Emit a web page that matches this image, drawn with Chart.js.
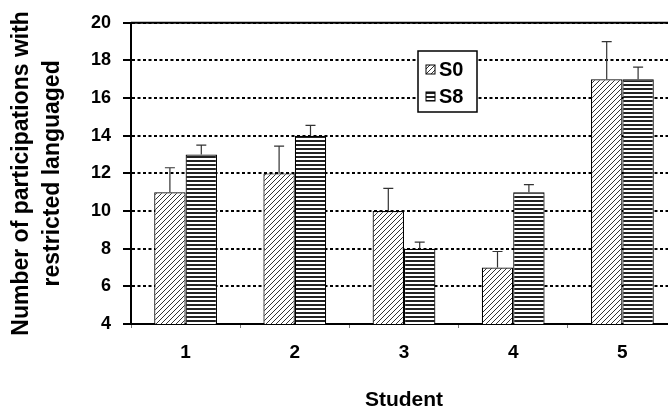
<!DOCTYPE html>
<html lang="en">
<head>
    <meta charset="UTF-8">
    <title>Participations with restricted language</title>
    <script src="https://cdn.jsdelivr.net/npm/chart.js"></script>
    <style>
        html, body {
            margin: 0;
            padding: 0;
            background: #ffffff;
            overflow: hidden;
        }
        #chart {
            display: block;
        }
    </style>
</head>
<body>
    <canvas id="chart" width="678" height="408"></canvas>

    <script>
        // Data
        const students = ['1', '2', '3', '4', '5'];
        const s0Values = [11, 12, 10, 7, 17];
        const s8Values = [13, 14, 8, 11, 17];
        // upper error bar tops
        const s0ErrTop = [12.3, 13.45, 11.2, 7.85, 19.0];
        const s8ErrTop = [13.5, 14.55, 8.35, 11.4, 17.65];
        const yMin = 4;
        const yMax = 20;
        const yStep = 2;

        const FONT = "'Liberation Sans', Arial, sans-serif";

        function makePattern(kind) {
            const c = document.createElement('canvas');
            const ctx = c.getContext('2d');
            if (kind === 'diag') {
                c.width = 5; c.height = 5;
                ctx.fillStyle = '#fff';
                ctx.fillRect(0, 0, 5, 5);
                ctx.strokeStyle = '#333';
                ctx.lineWidth = 1;
                ctx.beginPath();
                ctx.moveTo(-1, 6); ctx.lineTo(6, -1);
                ctx.moveTo(-1, 1); ctx.lineTo(1, -1);
                ctx.moveTo(4, 6); ctx.lineTo(6, 4);
                ctx.stroke();
            } else {
                c.width = 4; c.height = 4;
                ctx.fillStyle = '#fff';
                ctx.fillRect(0, 0, 4, 4);
                ctx.fillStyle = '#222';
                ctx.fillRect(0, 0, 4, 2);
            }
            return ctx.createPattern(c, 'repeat');
        }

        const errorBars = {
            id: 'errorBars',
            afterDatasetsDraw(chart) {
                const ctx = chart.ctx;
                const y = chart.scales.y;
                ctx.save();
                ctx.strokeStyle = '#333';
                ctx.lineWidth = 1.2;
                chart.data.datasets.forEach((ds, i) => {
                    const meta = chart.getDatasetMeta(i);
                    meta.data.forEach((bar, j) => {
                        const top = y.getPixelForValue(ds.errTop[j]);
                        ctx.beginPath();
                        ctx.moveTo(bar.x, bar.y);
                        ctx.lineTo(bar.x, top);
                        ctx.moveTo(bar.x - 5, top);
                        ctx.lineTo(bar.x + 5, top);
                        ctx.stroke();
                    });
                });
                ctx.restore();
            }
        };

        const frameAndLegend = {
            id: 'frameAndLegend',
            afterDraw(chart) {
                const ctx = chart.ctx;
                const area = chart.chartArea;
                ctx.save();
                // solid top line
                ctx.strokeStyle = '#000';
                ctx.lineWidth = 2;
                ctx.beginPath();
                ctx.moveTo(area.left, area.top);
                ctx.lineTo(chart.width, area.top);
                ctx.stroke();

                // legend box inside the plot
                const bx = 418, by = 51, bw = 59, bh = 61;
                ctx.fillStyle = '#fff';
                ctx.fillRect(bx, by, bw, bh);
                ctx.lineWidth = 1.5;
                ctx.strokeRect(bx, by, bw, bh);
                ctx.font = 'bold 20px ' + FONT;
                ctx.textBaseline = 'middle';
                chart.data.datasets.forEach((ds, i) => {
                    const cy = by + 18 + i * 27;
                    ctx.fillStyle = ds.backgroundColor;
                    ctx.fillRect(bx + 8, cy - 4, 9, 9);
                    ctx.lineWidth = 1;
                    ctx.strokeStyle = '#000';
                    ctx.strokeRect(bx + 8, cy - 4, 9, 9);
                    ctx.fillStyle = '#000';
                    ctx.fillText(ds.label, bx + 21, cy + 1);
                });
                ctx.restore();
            }
        };

        const ctx = document.getElementById('chart');
        new Chart(ctx, {
            type: 'bar',
            data: {
                labels: students,
                datasets: [{
                    label: 'S0',
                    data: s0Values,
                    errTop: s0ErrTop,
                    backgroundColor: makePattern('diag'),
                    borderColor: '#000',
                    borderWidth: 1.2,
                    borderSkipped: false
                }, {
                    label: 'S8',
                    data: s8Values,
                    errTop: s8ErrTop,
                    backgroundColor: makePattern('horiz'),
                    borderColor: '#000',
                    borderWidth: 1.2,
                    borderSkipped: false
                }]
            },
            options: {
                responsive: false,
                animation: false,
                devicePixelRatio: 1,
                categoryPercentage: 0.575,
                barPercentage: 1,
                layout: {
                    padding: { left: 0, right: 1, top: 17, bottom: 0 }
                },
                plugins: {
                    legend: { display: false },
                    tooltip: { enabled: false }
                },
                scales: {
                    x: {
                        afterFit: (scale) => { scale.height = 84; },
                        grid: {
                            offset: true,
                            drawOnChartArea: false,
                            tickLength: 4,
                            color: '#777',
                            lineWidth: 1
                        },
                        border: { display: true, color: '#000', width: 2 },
                        ticks: {
                            color: '#000',
                            padding: 13,
                            font: { family: FONT, size: 19, weight: 'bold' }
                        },
                        title: {
                            display: true,
                            text: 'Student',
                            color: '#000',
                            padding: { top: 0, bottom: 0 },
                            font: { family: FONT, size: 21, weight: 'bold', lineHeight: 0.7 }
                        }
                    },
                    y: {
                        min: yMin,
                        max: yMax,
                        afterFit: (scale) => { scale.width = 131; },
                        grid: {
                            color: '#000',
                            lineWidth: 2,
                            tickLength: 8,
                            tickColor: '#000',
                            tickWidth: 2
                        },
                        border: { display: true, color: '#000', width: 2, dash: [3, 2.5] },
                        ticks: {
                            stepSize: yStep,
                            color: '#000',
                            padding: 12,
                            font: { family: FONT, size: 18, weight: 'bold' }
                        },
                        title: {
                            display: true,
                            text: ['Number of participations with', 'restricted languaged'],
                            color: '#000',
                            padding: { top: 6, bottom: 0 },
                            font: { family: FONT, size: 23, weight: 'bold', lineHeight: 1.35 }
                        }
                    }
                }
            },
            plugins: [errorBars, frameAndLegend]
        });
    </script>
</body>
</html>
